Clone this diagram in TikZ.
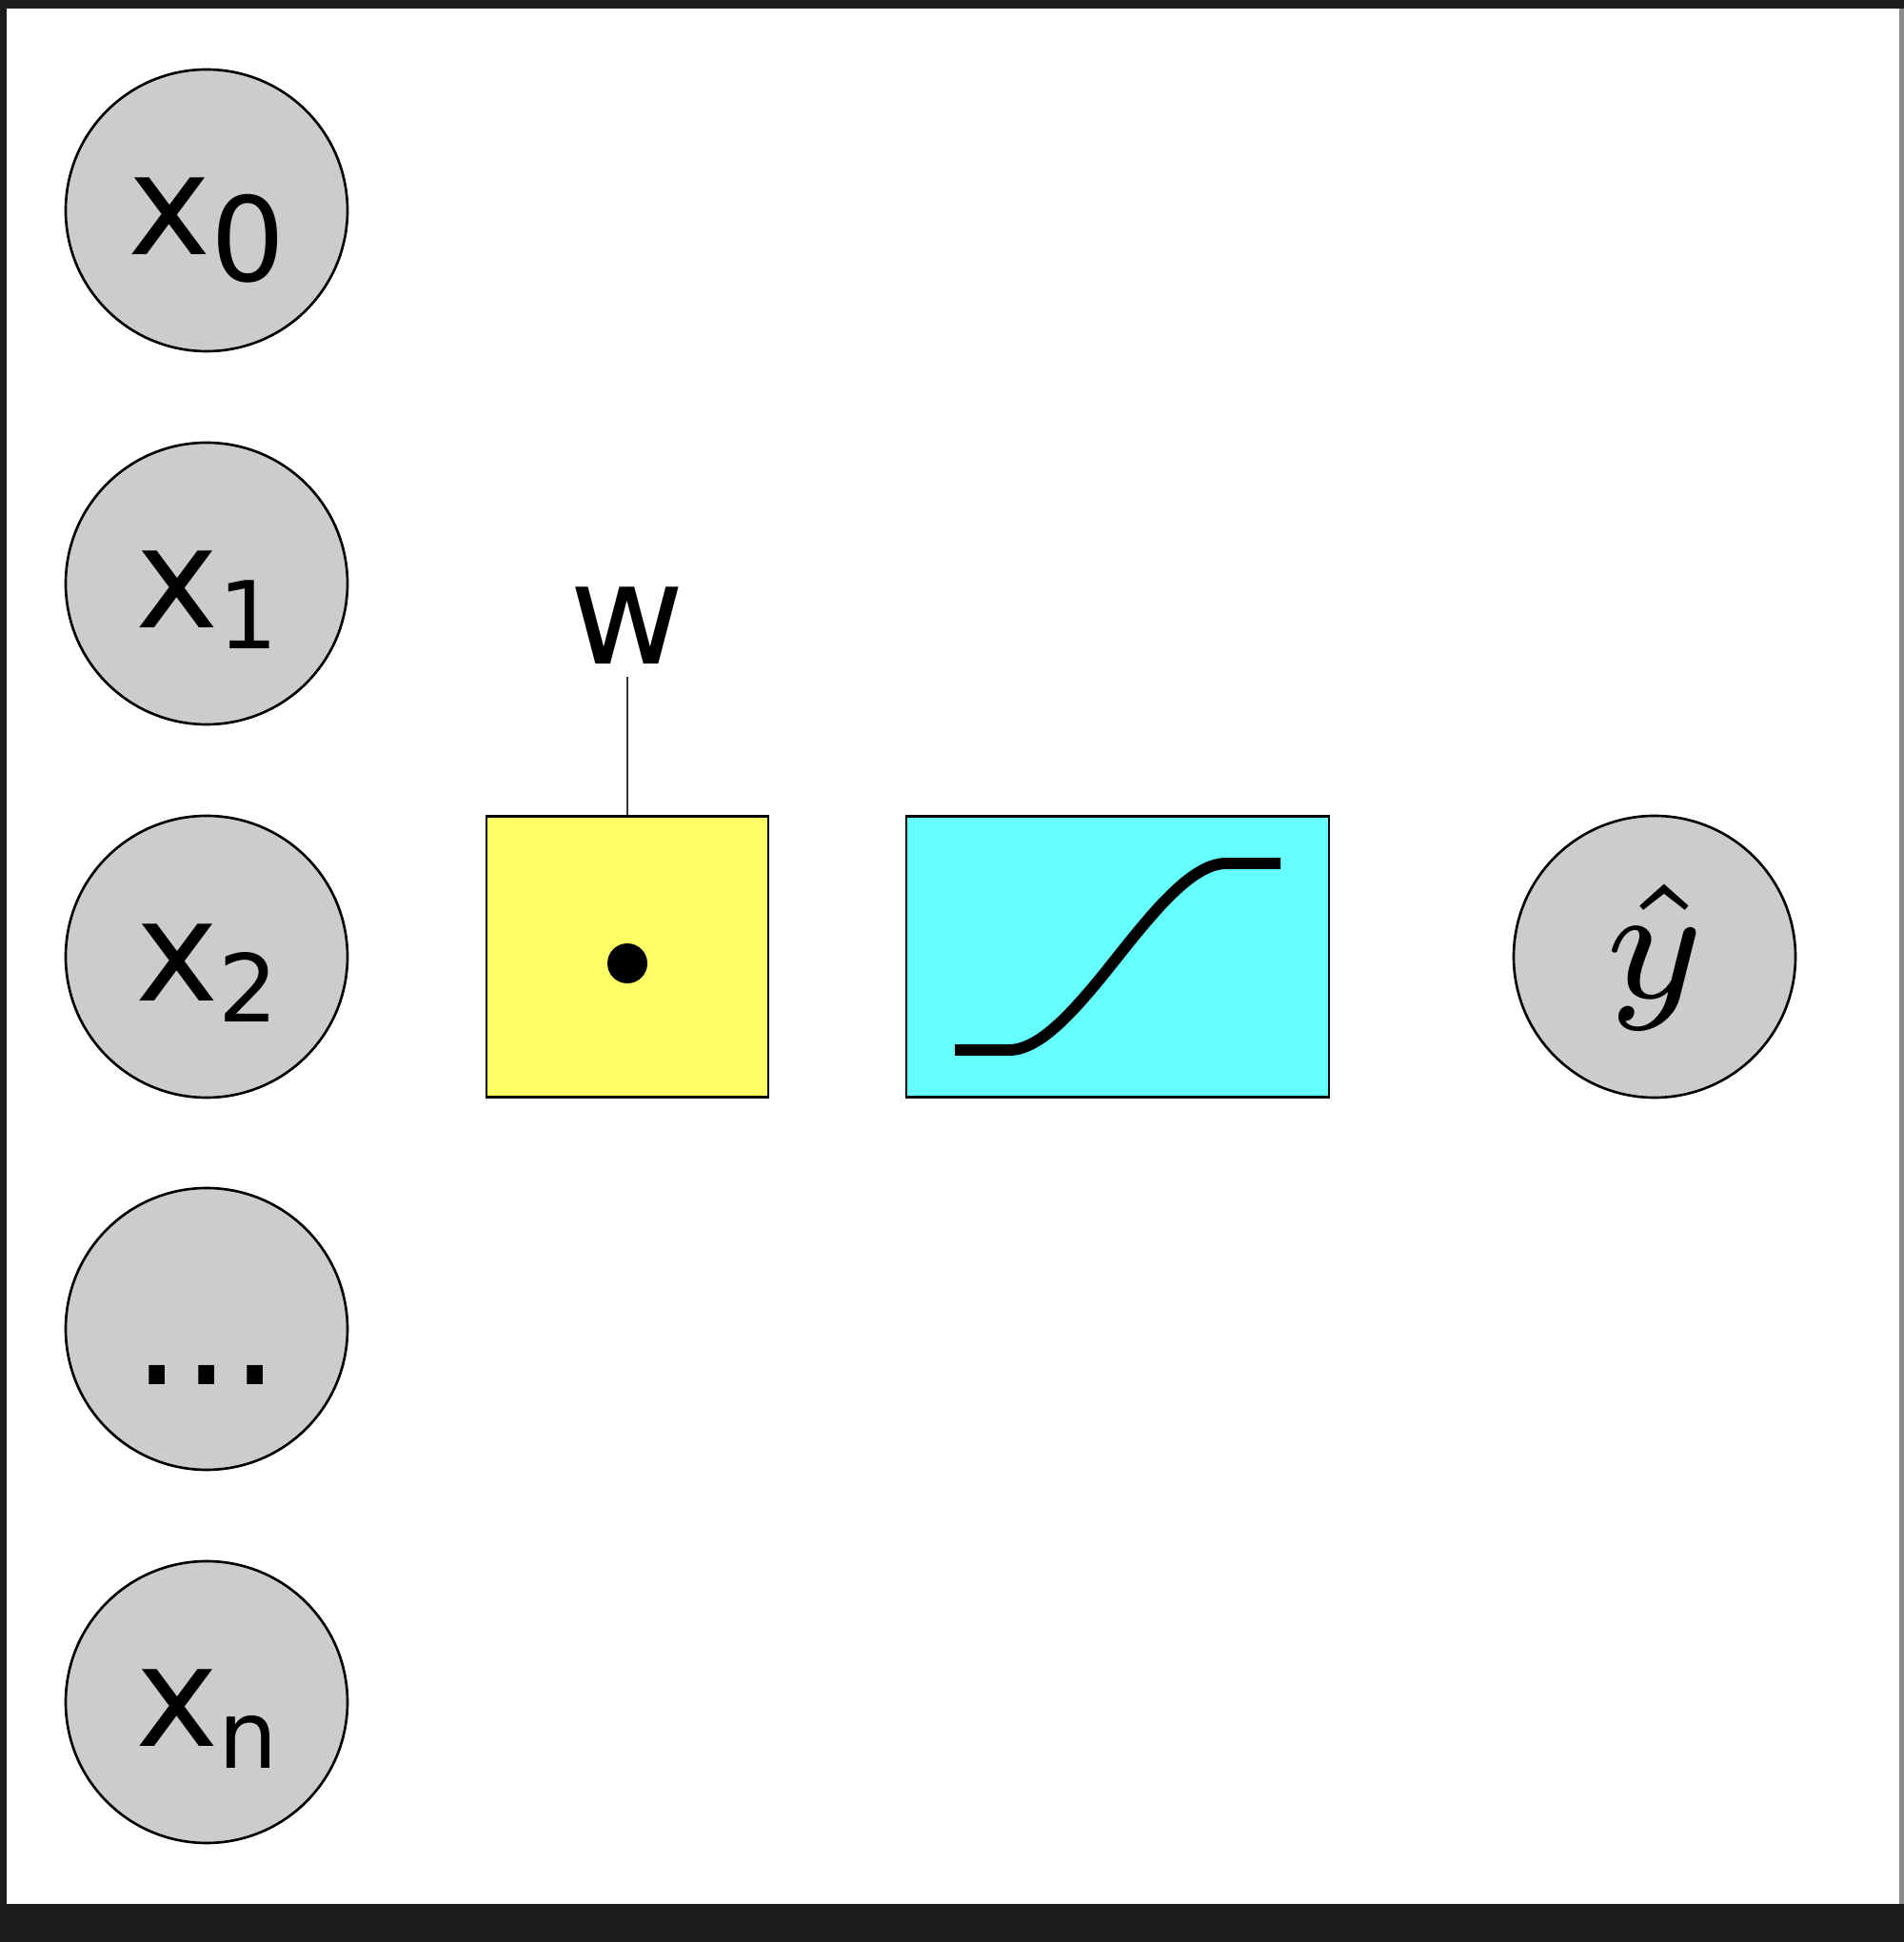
\RequirePackage{fix-cm}
\documentclass[tikz,border=0pt]{standalone}
\usepackage{fontspec}
\newfontfamily\dejavu{DejaVu Sans}
\usetikzlibrary{positioning}

\definecolor{nodegray}{HTML}{CCCCCC}
\definecolor{dotyellow}{HTML}{FFFF66}
\definecolor{sigcyan}{HTML}{66FFFF}
\definecolor{framedark}{HTML}{1C1C1E}
\definecolor{frameside}{HTML}{8A8A8A}

% x with a lowered index: #1 size in pt, #2 drop, #3 index
\newcommand{\xsub}[3]{x\raisebox{-#2}{\fontsize{#1}{#1}\selectfont #3}}

\begin{document}
\begin{tikzpicture}[
  unit/.style={circle, draw=black, line width=0.75pt, fill=nodegray,
    minimum size=2.96cm, inner sep=0pt,
    font=\dejavu\fontsize{42}{50}\selectfont,
    text height=1.24cm, text depth=0.30cm},
  dotbox/.style={draw=black, line width=0.8pt, fill=dotyellow,
    minimum width=2.96cm, minimum height=2.95cm, inner sep=0pt},
  actbox/.style={draw=black, line width=0.8pt, fill=sigcyan,
    minimum width=4.44cm, minimum height=2.95cm, inner sep=0pt},
  wlabel/.style={font=\dejavu\fontsize{42}{50}\selectfont, inner sep=0.13cm},
  wline/.style={draw=black!80, line width=0.6pt},
  sigcurve/.style={line width=3.4pt, line cap=butt}
]

%% ── Frame ──
\useasboundingbox (0,0) rectangle (20,20.4);
\fill[framedark] (0,0) rectangle (20,20.4);
\fill[white] (0.07,0.40) rectangle (19.95,20.31);
\fill[frameside] (19.95,0.40) rectangle (20,20.31);

%% ── Inputs ──
\node[unit] (x0) at (2.17,18.19) {\xsub{35}{0.28cm}{0}};
\node[unit] (x1) at (2.17,14.27) {\xsub{28}{0.22cm}{1}};
\node[unit] (x2) at (2.17,10.35) {\xsub{28}{0.22cm}{2}};
\node[unit, font=\dejavu\fontsize{46}{50}\selectfont,
  text height=1.40cm, text depth=0.22cm] (xdots) at (2.17,6.44) {...};
\node[unit] (xn) at (2.17,2.52) {\xsub{28}{0.22cm}{n}};

%% ── Dot product and activation ──
\node[dotbox] (dot) at (6.59,10.35) {};
\fill (dot.center) ++(0,-0.07) circle (0.21cm);
\node[wlabel, above=1.45cm of dot] (w) {w};
\draw[wline] (w.south) -- (dot.north);

\node[actbox] (act) at (11.74,10.35) {};
\begin{scope}[shift={(act.center)}]
  \draw[sigcurve] (-1.71,-0.98) -- (-1.14,-0.98)
    .. controls (-0.80,-0.98) and (-0.42,-0.53) .. (0,0)
    .. controls (0.42,0.53) and (0.80,0.98) .. (1.14,0.98)
    -- (1.71,0.98);
\end{scope}

%% ── Output ──
\node[unit, font=\normalfont\fontsize{10}{12}\selectfont,
  text height=, text depth=] (yhat) at (17.38,10.35)
  {\scalebox{7}{$\scriptstyle\hat{y}$}};

\end{tikzpicture}
\end{document}
